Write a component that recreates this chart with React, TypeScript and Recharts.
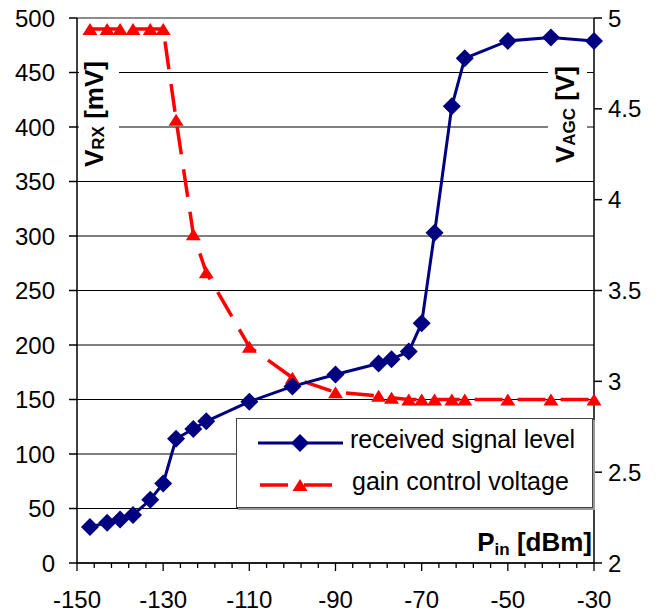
import { CartesianGrid, Legend, Line, LineChart, ReferenceLine, XAxis, YAxis } from 'recharts'

const pin = [-147, -143, -140, -137, -133, -130, -127, -123, -120, -110, -100, -90, -80, -77, -73, -70, -67, -63, -60, -50, -40, -30]
const vrx = [33, 37, 40, 44, 58, 73, 114, 123, 130, 148, 162, 173, 183, 187, 194, 220, 303, 419, 463, 479, 482, 479]
const vagc = [4.94, 4.94, 4.94, 4.94, 4.94, 4.94, 4.44, 3.81, 3.6, 3.19, 3.02, 2.94, 2.92, 2.91, 2.9, 2.9, 2.9, 2.9, 2.9, 2.9, 2.9, 2.9]

const xMajorTicks = [-150, -130, -110, -90, -70, -50, -30]
const xMinorTicks = [-150, -146, -142, -138, -134, -130, -126, -122, -118, -114, -110, -106, -102, -98, -94, -90, -86, -82, -78, -74, -70, -66, -62, -58, -54, -50, -46, -42, -38, -34, -30]
const leftTicks = [0, 50, 100, 150, 200, 250, 300, 350, 400, 450, 500]
const rightTicks = [2, 2.5, 3, 3.5, 4, 4.5, 5]

const data = pin.map((p, i) => ({ pin: p, vrx: vrx[i], vagc: vagc[i] }))

const FONT = '"Liberation Sans", Arial, sans-serif'
const BLUE = '#000080'
const RED = '#ff0000'

function PinTick({ x, y, payload }: any) {
  const major = xMajorTicks.includes(payload.value)
  return (
    <g>
      <line x1={x} x2={x} y1={y} y2={y + (major ? 8 : 5)} stroke="#000" strokeWidth={1.3} />
      {major && (
        <text x={x} y={y + 45} textAnchor="middle" fontSize={24} fontFamily={FONT} fill="#000">
          {payload.value}
        </text>
      )}
    </g>
  )
}

function Diamond({ cx, cy, index }: any) {
  if (cx == null || cy == null) return <g key={index} />
  return <polygon key={index} points={`${cx},${cy - 9} ${cx + 9},${cy} ${cx},${cy + 9} ${cx - 9},${cy}`} fill={BLUE} />
}

function Triangle({ cx, cy, index }: any) {
  if (cx == null || cy == null) return <g key={index} />
  return <polygon key={index} points={`${cx},${cy - 6} ${cx + 7.5},${cy + 6} ${cx - 7.5},${cy + 6}`} fill={RED} />
}

function LegendBox() {
  return (
    <div style={{ width: 357, height: 90, background: '#fff', border: '1px solid #444', boxShadow: '2px 2px 0 #999', boxSizing: 'border-box' }}>
      <svg width={355} height={88} style={{ display: 'block' }}>
        <line x1={21} x2={106} y1={24} y2={24} stroke={BLUE} strokeWidth={3} />
        <Diamond cx={63} cy={24} index={0} />
        <text x={113} y={29} fontSize={25} fontFamily={FONT} fill="#000">received signal level</text>
        <line x1={23} x2={96} y1={66} y2={66} stroke={RED} strokeWidth={3.5} strokeDasharray="28 16" />
        <Triangle cx={63} cy={66} index={1} />
        <text x={115} y={71} fontSize={25} fontFamily={FONT} fill="#000">gain control voltage</text>
      </svg>
    </div>
  )
}

export default function App() {
  return (
    <div style={{ position: 'absolute', left: 0, top: 0, width: 668, height: 615, background: '#fff' }}>
      <LineChart width={668} height={615} data={data} margin={{ top: 18, right: 0, bottom: 0, left: 0 }}>
        <CartesianGrid yAxisId="left" vertical={false} stroke="#000" strokeWidth={1} />
        <ReferenceLine yAxisId="left" y={500} stroke="#8c8c8c" strokeWidth={2} />
        <XAxis
          dataKey="pin"
          type="number"
          domain={[-150, -30]}
          ticks={xMinorTicks}
          interval={0}
          tick={<PinTick />}
          tickLine={false}
          tickSize={0}
          tickMargin={0}
          height={52}
          stroke="#000"
          strokeWidth={1.5}
        />
        <YAxis
          yAxisId="left"
          domain={[0, 500]}
          ticks={leftTicks}
          interval={0}
          width={77}
          tickSize={8}
          tickMargin={14}
          stroke="#000"
          strokeWidth={1.5}
          tick={{ fill: '#000', fontSize: 24, fontFamily: FONT }}
        />
        <YAxis
          yAxisId="right"
          orientation="right"
          domain={[2, 5]}
          ticks={rightTicks}
          interval={0}
          width={74}
          tickSize={8}
          tickMargin={6}
          stroke="#000"
          strokeWidth={1.5}
          tick={{ fill: '#000', fontSize: 24, fontFamily: FONT }}
        />
        <Line
          yAxisId="right"
          dataKey="vagc"
          stroke={RED}
          strokeWidth={3.5}
          strokeDasharray="28 15"
          dot={(p: any) => <Triangle key={p.index} {...p} />}
          activeDot={false}
          isAnimationActive={false}
        />
        <Line
          yAxisId="left"
          dataKey="vrx"
          stroke={BLUE}
          strokeWidth={3}
          dot={(p: any) => <Diamond key={p.index} {...p} />}
          activeDot={false}
          isAnimationActive={false}
        />
        <Legend
          layout="vertical"
          align="center"
          verticalAlign="middle"
          content={() => <LegendBox />}
          wrapperStyle={{ position: 'absolute', left: 236, top: 418, width: 357, height: 90 }}
        />
      </LineChart>
      <svg width={668} height={615} style={{ position: 'absolute', left: 0, top: 0, pointerEvents: 'none' }}>
        <rect x={79} y={52} width={40} height={120} fill="#fff" />
        <text transform="translate(103,167) rotate(-90)" fontSize={26} fontWeight="bold" fontFamily={FONT} fill="#000">
          V<tspan fontSize={17} dy={1}>RX</tspan>
          <tspan dy={-1} fontSize={26}> [mV]</tspan>
        </text>
        <rect x={548} y={52} width={39} height={120} fill="#fff" />
        <text transform="translate(574,163) rotate(-90)" fontSize={26} fontWeight="bold" fontFamily={FONT} fill="#000">
          V<tspan fontSize={17} dy={1}>AGC</tspan>
          <tspan dy={-1} fontSize={26}> [V]</tspan>
        </text>
        <text x={592} y={551} textAnchor="end" fontSize={26} fontWeight="bold" fontFamily={FONT} fill="#000">
          P<tspan fontSize={17} dy={4}>in</tspan>
          <tspan dy={-4} fontSize={26}> [dBm]</tspan>
        </text>
      </svg>
    </div>
  )
}
